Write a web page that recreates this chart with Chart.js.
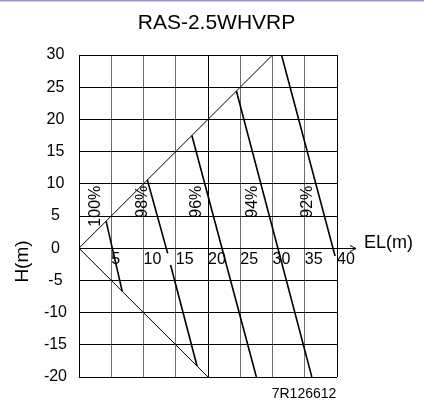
<!DOCTYPE html>
<html>
<head>
<meta charset="utf-8">
<script src="https://cdn.jsdelivr.net/npm/chart.js@4/dist/chart.umd.min.js"></script>
<style>
  html, body { margin: 0; padding: 0; background: #ffffff; }
  canvas { display: block; }
</style>
</head>
<body>
<canvas id="c" width="424" height="406"></canvas>
<script>
// ---- data (EL = equivalent length in m, H = height difference in m) ----
const chartTitle = 'RAS-2.5WHVRP';
const xTickValues = [5, 10, 15, 20, 25, 30, 35, 40];
const yTickValues = [30, 25, 20, 15, 10, 5, 0, -5, -10, -15, -20];

const upperBoundEL = [0, 30];
const upperBoundH  = [0, 30];
const lowerBoundEL = [0, 20];
const lowerBoundH  = [0, -20];

const line100EL = [4.2, 6.7];
const line100H  = [4.2, -6.7];
const line98aEL = [10.6, 13.75];
const line98aH  = [10.6, -0.8];
const line98bEL = [14.2, 18.3];
const line98bH  = [-2.6, -18.3];
const line96EL  = [17.5, 27.5];
const line96H   = [17.5, -20];
const line94EL  = [24.4, 36.1];
const line94H   = [24.4, -20];
const line92EL  = [31.4, 39.7];
const line92H   = [30, -1.2];

const effLabels  = ['100%', '98%', '96%', '94%', '92%'];
const effLabelEL = [2.6, 9.8, 18.2, 26.9, 35.5];
const effLabelH  = [9.7, 9.7, 9.7, 9.7, 9.7];

const FONT = '"Liberation Sans", Arial, sans-serif';

function pts(xs, ys) { return xs.map((v, i) => ({ x: v, y: ys[i] })); }

function lineDs(xs, ys, w) {
  return {
    data: pts(xs, ys),
    borderColor: '#000000',
    borderWidth: w,
    pointRadius: 0,
    pointHoverRadius: 0,
    fill: false,
    tension: 0
  };
}

const datasets = [
  lineDs(upperBoundEL, upperBoundH, 1),
  lineDs(lowerBoundEL, lowerBoundH, 1),
  lineDs(line100EL, line100H, 1.6),
  lineDs(line98aEL, line98aH, 1.6),
  lineDs(line98bEL, line98bH, 1.6),
  lineDs(line96EL, line96H, 1.6),
  lineDs(line94EL, line94H, 1.6),
  lineDs(line92EL, line92H, 1.6)
];

const extras = {
  id: 'extras',
  afterDraw(chart) {
    const { ctx, chartArea } = chart;
    const xs = chart.scales.x, ys = chart.scales.y;
    ctx.save();
    // top rule
    ctx.fillStyle = '#9797c9';
    ctx.fillRect(0, 0, chart.width, 1.5);

    ctx.fillStyle = '#000000';
    // title
    ctx.font = '21px ' + FONT;
    ctx.textAlign = 'center';
    ctx.textBaseline = 'middle';
    ctx.fillText(chartTitle, 216.5, 23);

    // efficiency labels (rotated)
    ctx.font = '16px ' + FONT;
    effLabels.forEach((t, i) => {
      const px = xs.getPixelForValue(effLabelEL[i]);
      const py = ys.getPixelForValue(effLabelH[i]);
      ctx.save();
      ctx.translate(px, py);
      ctx.rotate(-Math.PI / 2);
      ctx.textAlign = 'right';
      ctx.textBaseline = 'middle';
      ctx.fillText(t, 0, 0);
      ctx.restore();
    });

    // x axis arrow + title
    const y0 = Math.round(ys.getPixelForValue(0)) + 0.5;
    const xr = chartArea.right;
    ctx.strokeStyle = '#000000';
    ctx.lineWidth = 1;
    ctx.beginPath();
    ctx.moveTo(xr, y0);
    ctx.lineTo(xr + 19, y0);
    ctx.moveTo(xr + 13, y0 - 3);
    ctx.lineTo(xr + 19, y0);
    ctx.lineTo(xr + 13, y0 + 3);
    ctx.stroke();

    ctx.font = '18px ' + FONT;
    ctx.textAlign = 'left';
    ctx.textBaseline = 'middle';
    ctx.fillText('EL(m)', xr + 27, y0 - 5);

    // y axis title
    ctx.save();
    ctx.translate(22.5, 261.5);
    ctx.rotate(-Math.PI / 2);
    ctx.textAlign = 'center';
    ctx.textBaseline = 'middle';
    ctx.font = '19px ' + FONT;
    ctx.fillText('H(m)', 0, 0);
    ctx.restore();

    // drawing number
    ctx.font = '14px ' + FONT;
    ctx.textAlign = 'center';
    ctx.textBaseline = 'middle';
    ctx.fillText('7R126612', 304, 394);
    ctx.restore();
  }
};

new Chart(document.getElementById('c'), {
  type: 'line',
  data: { datasets },
  plugins: [extras],
  options: {
    responsive: false,
    devicePixelRatio: 1,
    animation: false,
    events: [],
    layout: { padding: { left: 0, top: 55, right: 87, bottom: 29 } },
    plugins: { legend: { display: false }, tooltip: { enabled: false }, title: { display: false } },
    scales: {
      x: {
        type: 'linear',
        min: 0, max: 40,
        position: { y: 0 },
        afterBuildTicks(s) { s.ticks = [0].concat(xTickValues).map(v => ({ value: v })); },
        ticks: {
          stepSize: 5,
          align: 'start',
          padding: 2,
          maxRotation: 0,
          autoSkip: false,
          color: '#000000',
          font: { family: FONT, size: 16 },
          callback: v => (v === 0 ? '' : String(v))
        },
        grid: {
          drawTicks: false,
          lineWidth: 1,
          color: ctx => {
            const v = ctx.tick ? ctx.tick.value : null;
            return (v === 0 || v === 20 || v === 40) ? '#000000' : '#6e6e6e';
          }
        },
        border: { display: true, color: '#000000', width: 1 }
      },
      y: {
        type: 'linear',
        min: -20, max: 30,
        position: 'left',
        afterBuildTicks(s) { s.ticks = yTickValues.map(v => ({ value: v })); },
        afterFit(s) { s.width = 79; },
        ticks: {
          stepSize: 5,
          crossAlign: 'center',
          padding: 12,
          autoSkip: false,
          color: '#000000',
          font: { family: FONT, size: 16 }
        },
        grid: { drawTicks: false, lineWidth: 1, color: '#000000' },
        border: { display: true, color: '#000000', width: 1 }
      }
    }
  }
});
</script>
</body>
</html>
